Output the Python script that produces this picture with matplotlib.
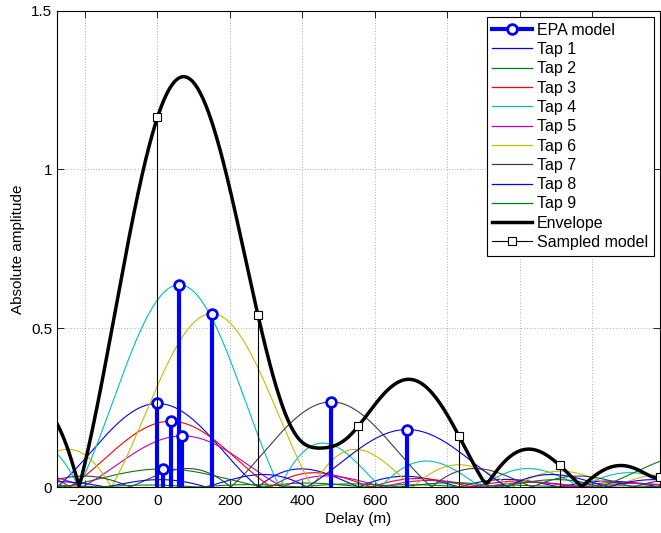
import numpy as np
import matplotlib
matplotlib.use('Agg')
import matplotlib.pyplot as plt
from matplotlib.lines import Line2D
from matplotlib.legend_handler import HandlerLine2D

# tap delays (ns -> m), amplitudes read off the stems, estimated tap phases (rad)
delays_ns = np.array([0, 50, 120, 200, 230, 500, 1600, 2300, 5000])
amps = np.array([0.263, 0.057, 0.207, 0.637, 0.161, 0.546, 0.268, 0.181, 0.107])
phases = np.array([0.000, 0.519, 5.413, 0.372, 3.205, 0.107, 0.552, 0.187, 2.812])
T = 277.58  # sample spacing in m (1.08 MHz)

delays = delays_ns * 0.299792458
gains = amps * np.exp(1j * phases)

x = np.linspace(-T, 5 * T, 2000)
S = np.sinc((x[:, None] - delays[None, :]) / T)
env = np.abs(S @ gains)
xs = np.arange(0, 6) * T
samp = np.abs(np.sinc((xs[:, None] - delays[None, :]) / T) @ gains)

plt.rcParams['font.family'] = ['Liberation Sans', 'DejaVu Sans']
plt.rcParams['font.size'] = 11
colors = [(0, 0, 1), (0, .5, 0), (1, 0, 0), (0, .75, .75), (.75, 0, .75),
          (.75, .75, 0), (.25, .25, .25), (0, 0, 1), (0, .5, 0)]

fig = plt.figure(figsize=(6.61, 5.33), dpi=100)
ax = fig.add_axes([0.0862, 0.0863, 0.9123, 0.8937])

# EPA model stems
for d, a in zip(delays, amps):
    ax.plot([d, d], [0, a], color='b', lw=3, zorder=3)
ax.plot(delays, amps, 'o', color='b', mfc='white', ms=7, mew=2, zorder=4)

# taps, envelope, sampled model
for i in range(9):
    ax.plot(x, amps[i] * np.abs(S[:, i]), color=colors[i], lw=0.8, zorder=2)
ax.plot(x, env, color='k', lw=2.5, zorder=5)
for xv, yv in zip(xs, samp):
    ax.plot([xv, xv], [0, yv], color='k', lw=0.8, zorder=5)
ax.plot(xs, samp, 's', color='k', mfc='white', ms=6, mew=0.8, zorder=6, clip_on=False)

ax.set_xlim(-T, 5 * T)
ax.set_ylim(0, 1.5)
ax.set_xticks(np.arange(-200, 1201, 200))
ax.set_yticks([0, 0.5, 1, 1.5])
ax.set_yticklabels(['0', '0.5', '1', '1.5'])
ax.set_xticklabels(['\u2212200', '0', '200', '400', '600', '800', '1000', '1200'])
ax.tick_params(direction='in', top=True, right=True, length=5, width=0.6)
ax.tick_params(axis='x', pad=5)
ax.grid(True, linestyle=(0, (1, 3)), color='k', lw=0.5, alpha=0.6)
ax.set_xlabel('Delay (m)', labelpad=3)
ax.set_ylabel('Absolute amplitude', labelpad=4)
for sp in ax.spines.values():
    sp.set_linewidth(0.8)


class StemHandler(HandlerLine2D):
    # marker at the right end of the legend line, like a stem legend
    def get_xdata(self, legend, xdescent, ydescent, width, height, fontsize):
        xd = np.array([-xdescent, -xdescent + width])
        return xd, xd[-1:] - 3


handles = [Line2D([], [], color='b', lw=3, marker='o', mfc='white', ms=7, mew=2)]
handles += [Line2D([], [], color=colors[i], lw=0.9) for i in range(9)]
handles += [Line2D([], [], color='k', lw=2.5)]
handles += [Line2D([], [], color='k', lw=0.8, marker='s', mfc='white', ms=6, mew=0.8)]
labels = ['EPA model'] + ['Tap %d' % (i + 1) for i in range(9)] + ['Envelope', 'Sampled model']
hm = {handles[0]: StemHandler(), handles[-1]: StemHandler()}
leg = ax.legend(handles, labels, loc='upper right', handler_map=hm, fancybox=False,
                edgecolor='k', framealpha=1, handlelength=2.5, handletextpad=0.3,
                labelspacing=0.27, borderaxespad=0.4, borderpad=0.35, fontsize=11.5)
leg.get_frame().set_linewidth(0.8)
leg.set_zorder(10)

fig.savefig('out.png', dpi=100)
